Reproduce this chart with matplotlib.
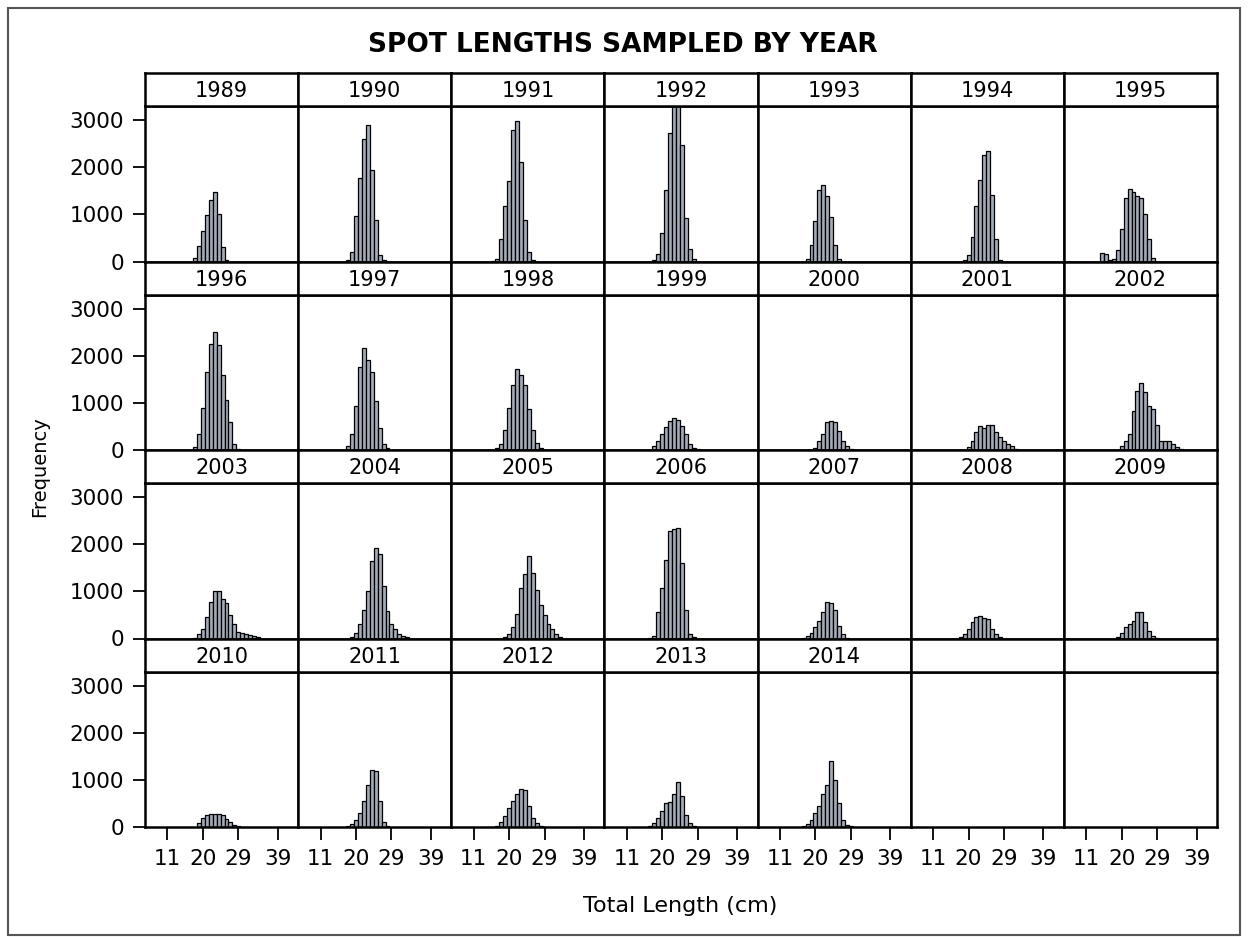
import matplotlib
matplotlib.use("Agg")
import matplotlib.pyplot as plt
from matplotlib.patches import Rectangle

plt.rcParams['font.family'] = ['DejaVu Sans']

# length-frequency counts per year, 1-cm bins starting at first_len
years = list(range(1989, 2015))
first_len = [18, 18, 16, 18, 18, 19, 15,
             18, 18, 17, 18, 20, 20, 20,
             18, 19, 19, 17, 17, 18, 19,
             19, 18, 17, 17, 17]
counts = [
    [70, 330, 640, 990, 1300, 1480, 1010, 310, 30],
    [30, 205, 970, 1770, 2600, 2900, 1950, 875, 145, 30],
    [15, 60, 475, 1170, 1700, 2790, 2980, 2120, 875, 205, 40],
    [40, 150, 610, 1520, 2720, 3500, 3400, 2470, 930, 255, 50],
    [60, 350, 850, 1520, 1620, 1390, 950, 350, 60],
    [35, 145, 510, 1170, 1740, 2260, 2335, 1420, 475, 35],
    [180, 150, 40, 60, 250, 700, 1350, 1530, 1470, 1400, 1350, 1000, 480, 80],
    [60, 350, 900, 1660, 2250, 2500, 2230, 1590, 1065, 585, 130, 20],
    [95, 350, 935, 1770, 2175, 1920, 1650, 1045, 460, 130, 45],
    [45, 130, 420, 900, 1390, 1720, 1590, 1370, 860, 420, 145, 45],
    [95, 200, 350, 480, 605, 680, 640, 500, 350, 130, 40, 15],
    [50, 200, 350, 600, 620, 600, 400, 200, 95, 20],
    [60, 200, 390, 500, 465, 540, 540, 390, 280, 200, 130, 75, 20, 10],
    [75, 200, 350, 825, 1260, 1420, 1225, 935, 860, 535, 200, 190, 190, 130, 60, 20],
    [20, 90, 200, 450, 780, 1000, 1000, 830, 745, 490, 305, 145, 125, 90, 65, 50, 30],
    [30, 125, 305, 600, 1000, 1635, 1925, 1800, 1110, 585, 305, 200, 100, 50, 30],
    [30, 100, 235, 525, 1075, 1365, 1750, 1390, 1035, 710, 490, 305, 200, 90, 30],
    [15, 50, 560, 1075, 1660, 2280, 2330, 2350, 1605, 600, 90, 30],
    [15, 50, 125, 235, 380, 560, 780, 745, 600, 270, 90, 15],
    [30, 100, 200, 345, 450, 480, 440, 420, 200, 90, 30],
    [30, 125, 235, 305, 380, 560, 570, 345, 160, 50, 15],
    [90, 200, 255, 275, 280, 280, 260, 180, 100, 50, 20],
    [20, 60, 150, 300, 550, 900, 1200, 1180, 550, 100, 20],
    [30, 100, 230, 400, 560, 700, 800, 780, 450, 200, 80, 30, 10],
    [20, 80, 200, 350, 500, 520, 700, 950, 650, 250, 80, 30, 10],
    [20, 60, 150, 300, 450, 700, 900, 1400, 1000, 500, 150, 50, 15],
]
x_ticks = [11, 20, 29, 39]
y_ticks = [0, 1000, 2000, 3000]

W, H = 1248, 939
fig = plt.figure(figsize=(W / 100, H / 100), dpi=100)


def px_axes(x0, y0, x1, y1):
    return fig.add_axes([x0 / W, 1 - y1 / H, (x1 - x0) / W, (y1 - y0) / H])


# outer frame
fig.patches.append(Rectangle((8 / W, 4 / H), 1232 / W, 927 / H, transform=fig.transFigure,
                             fill=False, edgecolor='#555555', linewidth=1.5))

fig.text(623 / W, 1 - 45 / H, 'SPOT LENGTHS SAMPLED BY YEAR', ha='center', va='center',
         fontsize=19, fontweight='bold')
fig.text(680 / W, 1 - 906 / H, 'Total Length (cm)', ha='center', va='center', fontsize=16)
fig.text(40 / W, 1 - 467 / H, 'Frequency', ha='center', va='center', fontsize=14,
         rotation=90)

ncol, nrow = 7, 4
left, right = 145, 1217
top, bottom = 73, 827
cw = (right - left) / ncol
rh = (bottom - top) / nrow
strip_h = 33
lw = 1.8

for i in range(ncol * nrow):
    r, c = divmod(i, ncol)
    x0 = left + c * cw
    st = top + r * rh
    pt = st + strip_h
    pb = st + rh

    ax = px_axes(x0, pt, x0 + cw, pb)
    ax.set_xlim(5.31, 44.2)
    ax.set_ylim(0, 3300)
    for s in ax.spines.values():
        s.set_linewidth(lw)

    # year header strip (blank for unused cells)
    sx = px_axes(x0, st, x0 + cw, pt)
    sx.set_xticks([])
    sx.set_yticks([])
    for s in sx.spines.values():
        s.set_linewidth(lw)

    if i < len(years):
        lens = [first_len[i] + k for k in range(len(counts[i]))]
        ax.bar(lens, counts[i], width=1.0, color='#a4abb8', edgecolor='black', linewidth=0.9)
        sx.text(0.5, 0.45, str(years[i]), transform=sx.transAxes, ha='center', va='center',
                fontsize=15)

    ax.set_xticks(x_ticks)
    ax.set_yticks(y_ticks)
    if r == nrow - 1:
        ax.tick_params(axis='x', length=9, width=1.3, labelsize=15.5, pad=7)
    else:
        ax.tick_params(axis='x', length=0, labelbottom=False)
    if c == 0:
        ax.tick_params(axis='y', length=9, width=1.3, labelsize=15.5, pad=6)
    else:
        ax.tick_params(axis='y', length=0, labelleft=False)

plt.savefig('out.png', dpi=100)
